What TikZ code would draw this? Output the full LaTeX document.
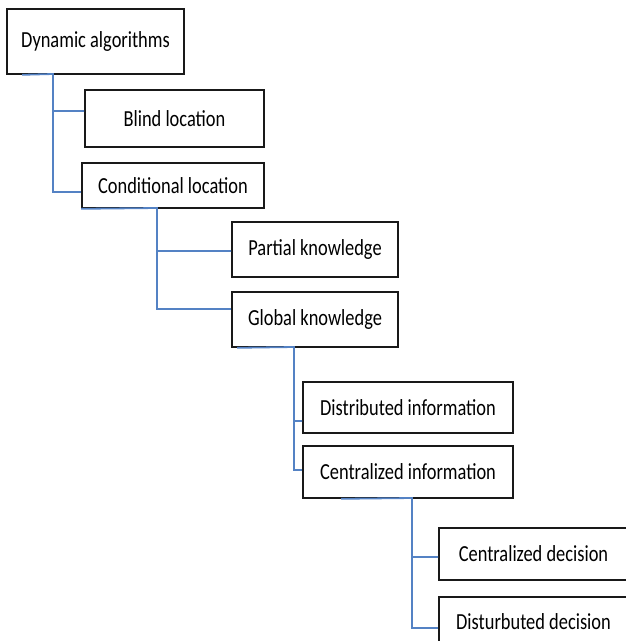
\documentclass[tikz,border=0pt]{standalone}
\usepackage{fontspec}
\setmainfont[FakeStretch=0.8]{Carlito}
\definecolor{linkblue}{RGB}{84,130,196}

\begin{document}
\begin{tikzpicture}[x=1pt,y=-1pt,
    box/.style={draw=black!90, line width=1.6pt, fill=white, inner sep=0pt,
        font=\fontsize{23}{26}\selectfont},
    link/.style={draw=linkblue, line width=1.8pt}]
    \useasboundingbox (0,0) rectangle (626,641);
    \clip (0,0) rectangle (626,641);

    % Boxes
    \node[box, minimum width=177, minimum height=65] (dyn) at (95.5,41.5) {Dynamic algorithms};
    \node[box, minimum width=179, minimum height=57] (blind) at (174.5,118.5) {Blind location};
    \node[box, minimum width=182, minimum height=45] (cond) at (173,185.5) {Conditional location};
    \node[box, minimum width=166, minimum height=55] (partial) at (315,249.5) {Partial knowledge};
    \node[box, minimum width=166, minimum height=55] (global) at (315,319.5) {Global knowledge};
    \node[box, minimum width=210, minimum height=51] (distinfo) at (408,407.5) {Distributed information};
    \node[box, minimum width=210, minimum height=52] (centinfo) at (408,472) {Centralized information};
    \node[box, minimum width=189, minimum height=52] (centdec) at (533.5,554) {Centralized decision};
    \node[box, minimum width=189, minimum height=49] (distdec) at (533.5,621.5) {Disturbuted decision};

    % Tree links
    \coordinate (t1) at (53,74);
    \draw[link] ([xshift=16pt]dyn.south west) -- (t1) |- ([yshift=7.5pt]blind.west);
    \draw[link] (t1) |- ([yshift=-6.5pt]cond.west);

    \coordinate (t2) at (157,208);
    \draw[link] (cond.south west) -- (t2) |- ([yshift=-1.5pt]partial.west);
    \draw[link] (t2) |- ([yshift=10.5pt]global.west);

    \coordinate (t3) at (294,347);
    \draw[link] ([xshift=6pt]global.south west) -- (t3) |- ([yshift=-13.5pt]distinfo.west);
    \draw[link] (t3) |- ([yshift=2pt]centinfo.west);

    \coordinate (t4) at (412,498);
    \draw[link] ([xshift=39pt]centinfo.south west) -- (t4) |- ([yshift=-3pt]centdec.west);
    \draw[link] (t4) |- ([yshift=-6.5pt]distdec.west);
\end{tikzpicture}
\end{document}
